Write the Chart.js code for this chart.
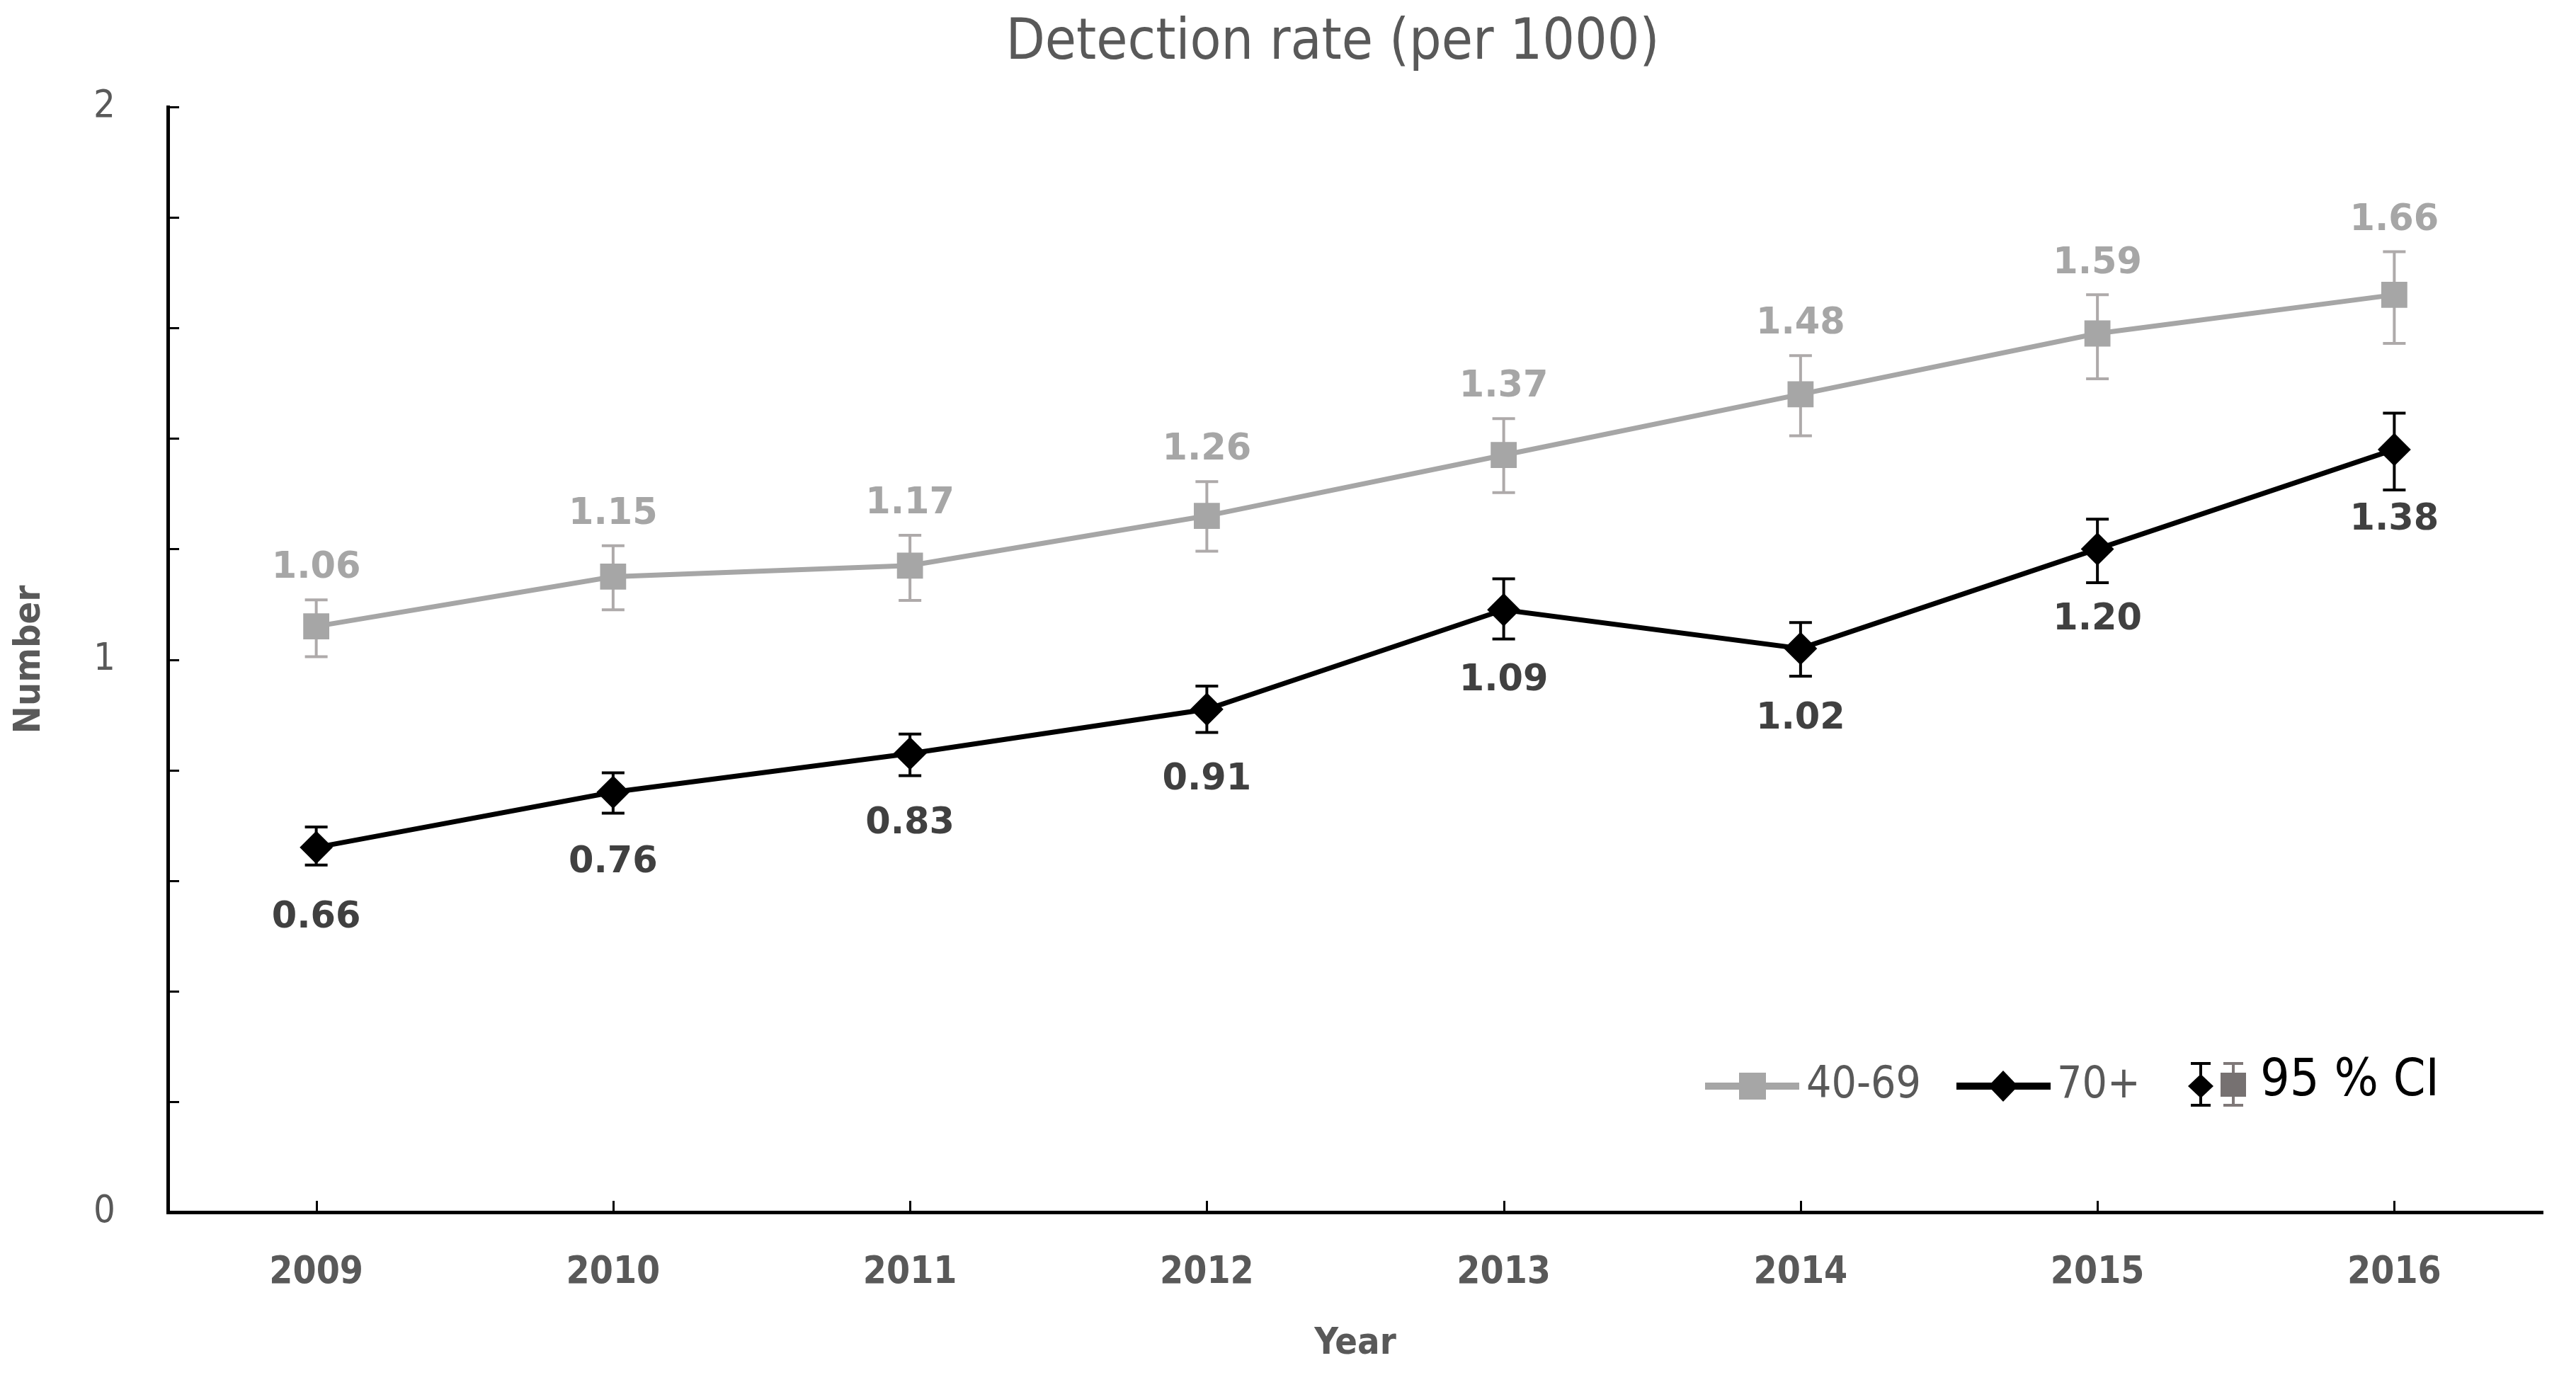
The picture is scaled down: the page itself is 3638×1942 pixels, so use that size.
<!DOCTYPE html>
<html lang="en">
<head>
<meta charset="UTF-8">
<title>Detection rate (per 1000)</title>
<script src="https://cdn.jsdelivr.net/npm/chart.js"></script>
<style>
    html, body { margin: 0; padding: 0; background: #fff; }
    #wrap { width: 3638px; height: 1942px; }
</style>
</head>
<body>
<div id="wrap"><canvas id="chart"></canvas></div>
<script>
// values
const years = ['2009', '2010', '2011', '2012', '2013', '2014', '2015', '2016'];
const rateYoung = [1.06, 1.15, 1.17, 1.26, 1.37, 1.48, 1.59, 1.66];     // 40-69
const lowYoung  = [1.005, 1.09, 1.107, 1.196, 1.302, 1.405, 1.508, 1.572];
const highYoung = [1.108, 1.206, 1.225, 1.322, 1.436, 1.55, 1.66, 1.738];
const rateOld = [0.66, 0.76, 0.83, 0.91, 1.09, 1.02, 1.20, 1.38];       // 70+
const lowOld  = [0.628, 0.722, 0.79, 0.868, 1.037, 0.97, 1.139, 1.307];
const highOld = [0.697, 0.795, 0.865, 0.952, 1.146, 1.067, 1.254, 1.446];
const yTickLabels = [0, 1, 2];
const yMinorStep = 0.2;

const NARROW = "'Liberation Sans Narrow', 'DejaVu Sans Condensed', 'Liberation Sans', sans-serif";
const GREY = '#A6A6A6';
const TEXT = '#595959';

// error bars, drawn under the markers
const errorBars = {
    id: 'errorBars',
    beforeDatasetsDraw(chart) {
        const { ctx, scales: { x, y } } = chart;
        const sets = [
            { lo: lowYoung, hi: highYoung, color: '#AEAAAA' },
            { lo: lowOld, hi: highOld, color: '#000000' }
        ];
        ctx.save();
        ctx.lineWidth = 4;
        sets.forEach(s => {
            ctx.strokeStyle = s.color;
            years.forEach((yr, i) => {
                const px = x.getPixelForValue(i);
                const top = y.getPixelForValue(s.hi[i]);
                const bot = y.getPixelForValue(s.lo[i]);
                ctx.beginPath();
                ctx.moveTo(px, top); ctx.lineTo(px, bot);
                ctx.moveTo(px - 16, top); ctx.lineTo(px + 16, top);
                ctx.moveTo(px - 16, bot); ctx.lineTo(px + 16, bot);
                ctx.stroke();
            });
        });
        ctx.restore();
    }
};

// value labels, ticks pointing inward, title and legend
const decorations = {
    id: 'decorations',
    afterDatasetsDraw(chart) {
        const { ctx, scales: { x, y } } = chart;
        ctx.save();
        ctx.font = 'bold 51px "DejaVu Sans"';
        ctx.textAlign = 'center';
        ctx.textBaseline = 'middle';
        years.forEach((yr, i) => {
            const px = x.getPixelForValue(i);
            ctx.fillStyle = GREY;
            ctx.fillText(rateYoung[i].toFixed(2), px, y.getPixelForValue(highYoung[i]) - 44);
            ctx.fillStyle = '#404040';
            ctx.fillText(rateOld[i].toFixed(2), px, y.getPixelForValue(rateOld[i]) + 100);
        });
        ctx.restore();
    },
    afterDraw(chart) {
        const { ctx, chartArea: area, scales: { x, y } } = chart;
        ctx.save();

        // tick marks
        ctx.strokeStyle = '#000';
        ctx.lineWidth = 3;
        ctx.beginPath();
        for (let v = 0; v <= y.max + 1e-9; v += yMinorStep) {
            const py = Math.round(y.getPixelForValue(v)) + 0.5;
            ctx.moveTo(area.left, py); ctx.lineTo(area.left + 16, py);
        }
        years.forEach((yr, i) => {
            const px = Math.round(x.getPixelForValue(i)) + 0.5;
            ctx.moveTo(px, area.bottom); ctx.lineTo(px, area.bottom - 16);
        });
        ctx.stroke();

        // title
        ctx.fillStyle = TEXT;
        ctx.font = '80px ' + NARROW;
        ctx.textAlign = 'center';
        ctx.textBaseline = 'middle';
        ctx.fillText('Detection rate (per 1000)', 1882, 62);

        // legend
        const R = area.right;
        const ly = area.bottom - 178;
        ctx.lineWidth = 10;
        ctx.strokeStyle = GREY;
        ctx.beginPath(); ctx.moveTo(R - 1183, ly); ctx.lineTo(R - 1050, ly); ctx.stroke();
        ctx.fillStyle = GREY;
        ctx.fillRect(R - 1135, ly - 19, 38, 38);
        ctx.strokeStyle = '#000';
        ctx.beginPath(); ctx.moveTo(R - 828, ly); ctx.lineTo(R - 695, ly); ctx.stroke();
        ctx.fillStyle = '#000';
        ctx.beginPath();
        ctx.moveTo(R - 762, ly - 22); ctx.lineTo(R - 741, ly);
        ctx.lineTo(R - 762, ly + 22); ctx.lineTo(R - 783, ly); ctx.closePath(); ctx.fill();

        ctx.textAlign = 'left';
        ctx.fillStyle = TEXT;
        ctx.font = '62px ' + NARROW;
        ctx.fillText('40-69', R - 1040, ly);
        ctx.fillText('70+', R - 686, ly);

        // 95 % CI symbol
        ctx.lineWidth = 4;
        const bars = [{ cx: R - 483, color: '#000' }, { cx: R - 437, color: '#7F7878' }];
        bars.forEach(b => {
            ctx.strokeStyle = b.color;
            ctx.beginPath();
            ctx.moveTo(b.cx, ly - 32); ctx.lineTo(b.cx, ly + 27);
            ctx.moveTo(b.cx - 14, ly - 32); ctx.lineTo(b.cx + 14, ly - 32);
            ctx.moveTo(b.cx - 14, ly + 27); ctx.lineTo(b.cx + 14, ly + 27);
            ctx.stroke();
        });
        ctx.fillStyle = '#000';
        ctx.beginPath();
        ctx.moveTo(R - 483, ly - 17); ctx.lineTo(R - 465, ly);
        ctx.lineTo(R - 483, ly + 17); ctx.lineTo(R - 501, ly); ctx.closePath(); ctx.fill();
        ctx.fillStyle = '#767171';
        ctx.fillRect(R - 455, ly - 19, 36, 34);
        ctx.fillStyle = '#000';
        ctx.font = '73px ' + NARROW;
        ctx.fillText('95 % CI', R - 399, ly - 6);

        ctx.restore();
    }
};

new Chart(document.getElementById('chart'), {
    type: 'line',
    data: {
        labels: years,
        datasets: [{
            label: '40-69',
            data: rateYoung,
            borderColor: GREY,
            backgroundColor: GREY,
            borderWidth: 7,
            pointStyle: 'rect',
            pointRadius: 26,
            pointBorderWidth: 0,
            tension: 0,
            clip: false
        }, {
            label: '70+',
            data: rateOld,
            borderColor: '#000',
            backgroundColor: '#000',
            borderWidth: 7,
            pointStyle: 'rectRot',
            pointRadius: 22,
            pointBorderWidth: 2,
            tension: 0,
            clip: false
        }]
    },
    options: {
        responsive: true,
        maintainAspectRatio: false,
        animation: false,
        devicePixelRatio: 1,
        layout: { padding: { top: 151, right: 47, bottom: 0, left: 0 } },
        plugins: {
            legend: { display: false },
            title: { display: false },
            tooltip: { enabled: false }
        },
        scales: {
            x: {
                offset: true,
                grid: { display: false, drawTicks: false },
                border: { display: true, color: '#000', width: 5 },
                ticks: {
                    color: TEXT,
                    padding: 54,
                    font: { family: NARROW, size: 53, weight: 'bold' }
                },
                title: {
                    display: true,
                    text: 'Year',
                    color: TEXT,
                    padding: { top: 0, bottom: 12 },
                    font: { family: NARROW, size: 52, weight: 'bold' }
                },
                afterFit(scale) { scale.height = 230; }
            },
            y: {
                min: 0,
                max: 2,
                grid: { display: false, drawTicks: false },
                border: { display: true, color: '#000', width: 5 },
                ticks: {
                    stepSize: 1,
                    color: TEXT,
                    padding: 74,
                    font: { family: NARROW, size: 54 },
                    callback: v => yTickLabels.includes(v) ? v : ''
                },
                title: {
                    display: true,
                    text: 'Number',
                    color: TEXT,
                    padding: { top: 11, bottom: 0 },
                    font: { family: NARROW, size: 52, weight: 'bold' }
                },
                afterFit(scale) { scale.width = 237; }
            }
        }
    },
    plugins: [errorBars, decorations]
});
</script>
</body>
</html>
